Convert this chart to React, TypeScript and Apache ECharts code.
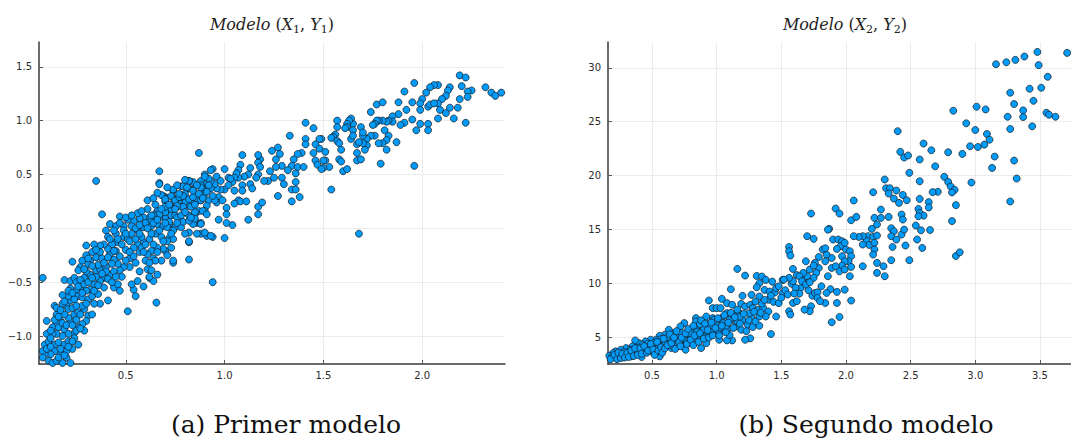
import React, { useEffect, useRef } from "react";
import * as echarts from "echarts";

// Modelo (X1, Y1)
const modelo1: number[][] = [
  [2.19,1.42],[2.22,1.40],[2.32,1.31],[2.35,1.26],[2.37,1.23],[2.40,1.26],[2.25,1.28],[2.23,1.27],[2.23,1.22],[2.20,1.32],
  [2.19,1.20],[2.18,1.12],[2.16,1.02],[2.22,0.98],[2.14,1.31],[2.13,1.28],[2.12,1.23],[2.10,1.20],[2.08,1.16],[2.08,1.33],
  [2.06,1.33],[2.04,1.31],[2.02,1.26],[2.00,1.20],[1.99,1.16],[1.99,1.10],[2.03,1.13],[2.04,1.15],[2.06,1.16],[2.09,1.10],
  [2.12,1.07],[2.14,1.12],[2.08,1.02],[2.03,0.97],[2.03,0.91],[1.99,0.97],[1.97,0.91],[1.95,1.01],[1.95,1.17],[1.96,1.35],
  [1.91,1.27],[1.88,1.17],[1.88,1.06],[1.91,0.98],[1.89,0.96],[1.92,1.10],[1.96,0.58],[1.87,0.80],[1.85,1.04],[1.85,0.99],
  [1.83,1.00],[1.82,0.99],[1.80,1.00],[1.78,1.00],[1.77,1.00],[1.76,0.97],[1.75,0.96],[1.74,1.08],[1.77,1.15],[1.80,1.17],
  [1.81,0.91],[1.83,0.86],[1.82,0.82],[1.82,0.73],[1.80,0.79],[1.78,0.79],[1.79,0.60],[1.76,0.86],[1.74,0.86],[1.72,0.83],
  [1.70,0.86],[1.69,0.94],[1.70,0.89],[1.72,0.77],[1.71,0.73],[1.70,0.79],[1.67,0.78],[1.67,0.70],[1.67,0.63],[1.69,0.64],
  [1.65,0.97],[1.64,1.02],[1.63,1.00],[1.62,0.97],[1.62,0.94],[1.61,0.93],[1.65,0.91],[1.64,0.83],[1.65,0.86],[1.68,0.80],
  [1.57,1.00],[1.57,0.94],[1.56,0.87],[1.55,0.85],[1.54,0.84],[1.57,0.81],[1.58,0.79],[1.59,0.73],[1.58,0.64],[1.59,0.62],
  [1.60,0.53],[1.62,0.55],[1.53,0.57],[1.51,0.63],[1.51,0.71],[1.50,0.56],[1.49,0.83],[1.54,0.36],[1.68,-0.05],
  [1.41,0.98],[1.45,0.93],[1.33,0.86],[1.41,0.83],[1.41,0.78],[1.46,0.78],[1.48,0.83],[1.48,0.74],[1.45,0.70],[1.46,0.63],
  [1.47,0.59],[1.49,0.55],[1.50,0.63],[1.39,0.70],[1.37,0.69],[1.35,0.64],[1.34,0.58],[1.37,0.57],[1.40,0.57],[1.36,0.51],
  [1.36,0.43],[1.34,0.36],[1.36,0.36],[1.34,0.25],[1.38,0.29],[1.32,0.54],[1.29,0.58],[1.27,0.75],[1.28,0.69],[1.26,0.64],
  [1.24,0.72],[1.26,0.57],[1.23,0.53],[1.29,0.47],[1.30,0.41],[1.27,0.30],[1.25,0.47],[1.22,0.44],[1.20,0.44],[1.18,0.64],
  [1.17,0.68],[1.17,0.61],[1.18,0.57],[1.17,0.50],[1.16,0.47],[1.13,0.56],[1.12,0.50],[1.10,0.48],[1.09,0.68],[1.08,0.59],
  [1.07,0.54],[1.07,0.47],[1.09,0.40],[1.09,0.35],[1.13,0.41],[1.14,0.37],[1.06,0.51],[1.05,0.47],[1.04,0.43],[1.05,0.35],
  [1.07,0.26],[1.08,0.25],[1.11,0.25],[1.12,0.08],[1.17,0.20],[1.19,0.24],[1.17,0.13],[1.05,0.23],[1.01,0.19],[1.01,0.13],
  [1.04,0.03],[1.01,0.05],[1.00,-0.09],[1.00,0.55],[1.02,0.47],[1.03,0.46],[1.00,0.36],[0.98,0.36],[0.97,0.08],[0.97,0.29],
  [0.96,0.24],[0.96,0.37],[0.95,0.41],[0.93,0.44],[0.92,0.46],[0.90,0.41],[0.89,0.36],[0.94,0.55],[0.93,0.54],[0.90,0.50],
  [0.88,0.44],[0.88,0.40],[0.87,0.70],[0.90,0.48],[0.92,0.26],[0.91,0.21],[0.90,0.16],[0.87,0.16],[0.88,0.26],[0.86,0.26],
  [0.84,0.36],[0.84,0.43],[0.82,0.44],[0.82,0.37],[0.80,0.32],[0.78,0.39],[0.83,0.26],[0.82,0.21],[0.82,0.12],[0.85,0.13],
  [0.86,0.05],[0.84,0.04],[0.88,0.05],[0.88,-0.05],[0.91,-0.07],[0.94,-0.08],[0.82,-0.04],[0.80,-0.05],[0.82,-0.13],[0.82,-0.29],
  [0.86,-0.05],[0.80,0.25],[0.78,0.20],[0.77,0.26],[0.75,0.26],[0.74,0.28],[0.73,0.20],[0.74,0.35],[0.78,0.29],[0.70,0.29],
  [0.70,0.25],[0.69,0.30],[0.71,0.16],[0.73,0.12],[0.75,0.12],[0.76,0.10],[0.75,0.01],[0.72,0.04],[0.70,0.09],[0.67,0.10],
  [0.66,0.16],[0.65,0.13],[0.67,0.53],[0.67,0.42],[0.72,0.06],[0.72,-0.09],[0.73,-0.18],[0.74,-0.10],[0.70,-0.21],[0.71,-0.25],
  [0.68,-0.30],[0.74,-0.32],[0.94,-0.50],
  [0.35,0.44],[0.67,0.41],[0.74,0.36],[0.79,0.39],[0.82,0.44],[0.68,0.31],[0.70,0.27],[0.73,0.30],[0.75,0.26],[0.77,0.29],
  [0.79,0.30],[0.82,0.27],[0.84,0.29],[0.84,0.35],[0.88,0.38],[0.90,0.32],[0.93,0.37],[0.95,0.26],[0.88,0.26],[0.89,0.16],
  [0.91,0.13],[0.85,0.15],[0.83,0.20],[0.79,0.20],[0.76,0.21],[0.73,0.18],[0.70,0.15],[0.67,0.13],[0.64,0.12],[0.62,0.10],
  [0.59,0.10],[0.57,0.09],[0.54,0.07],[0.53,0.02],[0.49,0.02],[0.47,0.11],[0.38,0.13],[0.42,0.04],[0.40,-0.02],[0.41,-0.08],
  [0.45,-0.13],[0.45,-0.21],[0.43,-0.15],[0.49,-0.02],[0.49,-0.08],[0.51,-0.10],[0.53,-0.05],[0.56,-0.02],[0.59,0.01],[0.63,0.02],
  [0.66,0.04],[0.69,0.02],[0.71,0.01],[0.74,-0.02],[0.78,0.01],[0.79,0.06],[0.82,0.07],[0.85,0.09],[0.88,0.04],[0.90,-0.04],
  [0.93,-0.07],[0.82,-0.12],[0.74,-0.30],[0.69,-0.19],[0.66,-0.18],[0.63,-0.21],[0.61,-0.24],[0.59,-0.13],[0.56,-0.15],[0.54,-0.18],
  [0.57,-0.22],[0.61,-0.38],[0.63,-0.39],[0.62,-0.46],[0.64,-0.49],[0.66,-0.43],[0.56,-0.49],[0.54,-0.57],[0.55,-0.63],[0.53,-0.52],
  [0.52,-0.36],[0.49,-0.36],[0.47,-0.39],[0.46,-0.33],[0.44,-0.29],[0.42,-0.24],[0.41,-0.19],[0.39,-0.15],[0.37,-0.16],[0.34,-0.15],
  [0.30,-0.16],[0.37,-0.22],[0.35,-0.27],[0.32,-0.30],[0.31,-0.33],[0.27,-0.36],[0.26,-0.39],[0.23,-0.31],[0.19,-0.48],[0.22,-0.49],
  [0.24,-0.46],[0.29,-0.46],[0.32,-0.43],[0.35,-0.39],[0.37,-0.38],[0.40,-0.36],[0.42,-0.43],[0.39,-0.46],[0.37,-0.49],[0.34,-0.52],
  [0.32,-0.57],[0.30,-0.58],[0.27,-0.55],[0.25,-0.58],[0.26,-0.63],[0.28,-0.64],[0.31,-0.66],[0.33,-0.63],[0.36,-0.61],[0.37,-0.70],
  [0.41,-0.67],[0.44,-0.55],[0.46,-0.52],[0.47,-0.58],[0.51,-0.77],[0.655,-0.69],[0.59,-0.54],[0.62,-0.45],[0.22,-0.67],[0.21,-0.63],
  [0.20,-0.72],[0.21,-0.75],[0.23,-0.74],[0.24,-0.80],[0.26,-0.78],[0.29,-0.75],[0.31,-0.81],[0.30,-0.86],[0.28,-0.89],[0.29,-0.95],
  [0.26,-0.92],[0.24,-0.97],[0.22,-0.86],[0.21,-0.83],[0.19,-0.80],[0.17,-0.86],[0.15,-0.80],[0.14,-0.72],[0.15,-0.74],[0.15,-0.88],
  [0.13,-0.92],[0.10,-0.86],[0.16,-0.92],[0.19,-0.94],[0.21,-0.98],[0.18,-1.00],[0.15,-0.98],[0.13,-0.98],[0.10,-0.98],[0.09,-1.08],
  [0.11,-1.05],[0.14,-1.08],[0.16,-1.06],[0.19,-1.08],[0.21,-1.05],[0.24,-1.02],[0.26,-1.08],[0.23,-1.12],[0.20,-1.14],[0.17,-1.16],
  [0.14,-1.14],[0.12,-1.17],[0.09,-1.17],[0.08,-1.14],[0.08,-1.20],[0.11,-1.23],[0.13,-1.25],[0.15,-1.23],[0.18,-1.25],[0.22,-1.25],
  [0.08,-0.46],
  [0.28,-0.30],[0.33,-0.22],[0.38,-0.28],[0.43,-0.33],[0.47,-0.26],[0.50,-0.20],[0.52,-0.28],[0.55,-0.32],[0.58,-0.08],[0.60,-0.30],
  [0.55,0.00],[0.52,-0.12],[0.45,-0.05],[0.40,-0.40],[0.36,-0.34],[0.30,-0.40],[0.25,-0.50],[0.22,-0.56],[0.18,-0.62],[0.24,-0.66],
  [0.28,-0.72],[0.33,-0.80],[0.25,-0.85],[0.18,-0.70],[0.12,-1.02],[0.17,-1.12],[0.20,-1.20],[0.48,-0.45],[0.44,-0.40],[0.50,-0.30],
  [0.58,-0.18],[0.62,-0.10],[0.65,-0.05],[0.68,-0.08],[0.71,-0.12],[0.60,0.05],[0.64,-0.28],[0.57,-0.40],[0.45,0.02],[0.51,0.08],
  [0.56,0.14],[0.61,0.18],[0.65,0.22],[0.70,0.20],[0.63,0.07],[0.35,-0.45],[0.30,-0.25],[0.27,-0.48],[0.39,-0.55],[0.34,-0.70],
  [0.30,-0.70],[0.64,0.05],[0.63,-0.05],[0.64,-0.15],[0.66,-0.22],[0.65,-0.30],
  [0.10,-1.12],[0.12,-1.10],[0.16,-1.20],[0.19,-1.18],[0.21,-1.10],[0.23,-1.05],[0.25,-0.95],[0.27,-0.93],[0.12,-0.95],[0.14,-0.85],
  [0.16,-0.82],[0.18,-0.88],[0.20,-0.90],[0.23,-0.90],[0.25,-0.72],[0.27,-0.80],[0.17,-0.76],[0.19,-0.68],[0.21,-0.58],[0.23,-0.60],
  [0.26,-0.54],[0.28,-0.60],[0.29,-0.52],[0.31,-0.50],[0.33,-0.46],[0.34,-0.58],[0.36,-0.53],[0.38,-0.42],[0.41,-0.47],[0.43,-0.50],
  [0.45,-0.45],[0.29,-0.38],[0.31,-0.28],[0.33,-0.35],[0.35,-0.20],[0.39,-0.32],[0.41,-0.27],[0.44,-0.21],[0.46,-0.10],[0.48,-0.15],
  [0.50,-0.05],[0.52,-0.22],[0.54,-0.26],[0.55,-0.10],[0.57,-0.05],[0.59,-0.22],[0.60,-0.15],[0.61,0.00],[0.62,-0.32],[0.63,0.12],
  [0.66,0.08],[0.67,-0.02],[0.68,0.18],[0.69,-0.12],[0.70,0.05],[0.72,0.22],[0.73,-0.05],[0.75,0.18],[0.76,0.05],[0.77,0.32],
  [0.78,0.12],[0.80,0.15],[0.81,0.38],[0.83,0.10],[0.85,0.22],[0.86,0.40],[0.87,0.32],[0.89,0.28],[0.91,0.34],[0.92,0.40],
  [0.94,0.30],[0.96,0.48],[0.98,0.44],[0.99,0.26],[1.02,0.40],[0.42,-0.10],[0.44,-0.02],[0.47,0.05],[0.50,0.10],[0.53,0.12],
  [0.57,0.03],[0.58,0.16],[0.61,0.26],[0.64,0.28],[0.66,0.33],[0.71,0.38],[0.76,0.40],[0.80,0.45],
];

// Modelo (X2, Y2)
const modelo2: number[][] = [
  [1.16,11.33],[1.22,10.71],[1.31,10.68],[1.35,10.62],[1.38,10.31],[1.43,10.15],[1.51,10.31],[1.33,10.0],[1.31,9.63],[1.37,9.38],
  [1.41,9.23],[1.45,9.14],[1.51,9.07],[1.11,9.44],[1.20,8.83],[1.27,8.92],[1.33,8.77],[1.40,8.46],[1.44,8.27],[1.48,8.15],
  [0.94,8.40],[1.04,8.55],[0.97,7.69],[1.00,7.69],[1.03,7.69],[1.08,8.15],[1.12,8.0],[1.17,7.28],[1.19,8.09],[1.22,7.84],
  [1.26,8.0],[1.28,7.69],[1.32,7.53],[1.36,7.69],[1.40,7.38],[1.46,6.91],[1.38,6.91],[1.33,6.91],[1.27,6.76],[1.24,6.14],
  [1.28,5.93],[1.33,6.05],[1.42,5.28],[1.26,4.88],[1.22,4.75],[1.12,4.69],[1.08,4.69],[1.19,5.68],[1.15,5.99],[0.84,6.76],
  [0.84,6.45],[0.75,6.30],[0.72,5.99],[0.67,5.37],[0.63,5.68],[0.60,5.22],[0.56,5.12],[0.53,4.75],[0.49,4.75],[0.45,4.60],
  [0.40,4.44],[0.37,4.69],[0.35,4.14],[0.30,3.98],[0.26,3.83],[0.22,3.67],[0.20,3.52],[0.17,3.27],[0.19,3.15],[0.24,3.27],
  [0.29,3.36],[0.33,3.46],[0.38,3.58],[0.43,3.83],[0.48,3.98],[0.53,4.14],[0.58,4.29],[0.63,4.44],[0.68,4.60],[0.74,4.75],
  [0.79,4.91],[0.81,5.22],[0.86,5.06],[0.92,5.22],[0.97,5.37],[1.02,5.52],[1.06,5.68],[1.09,5.83],[0.88,3.98],[0.56,3.21],
  [0.42,3.15],[0.34,3.21],[0.50,3.67],[0.74,4.14],[0.65,3.98],[0.79,4.44],[0.92,4.44],[1.02,4.75],[0.79,5.52],[0.71,5.22],
  [0.92,5.99],[1.00,6.30],[1.04,6.76],[1.08,7.22],[1.12,6.60],[1.16,6.45],[1.20,6.60],[0.89,5.68],[0.85,5.93],[0.94,6.23],
  [0.97,6.76],[0.92,6.91],[0.81,5.52],[0.61,4.75],[0.45,4.14],[0.76,3.83],
  [0.25,3.2],[0.30,3.3],[0.35,3.5],[0.40,3.7],[0.45,3.9],[0.50,4.1],[0.55,4.3],[0.60,4.5],[0.65,4.7],[0.70,4.9],
  [0.75,5.1],[0.80,5.3],[0.85,5.5],[0.90,5.7],[0.95,5.9],[1.00,6.1],[1.05,6.3],[1.10,6.6],[0.22,3.1],[0.28,3.6],
  [0.33,3.8],[0.38,4.0],[0.43,4.3],[0.47,4.4],[0.52,4.5],[0.57,4.8],[0.62,5.0],[0.66,4.2],[0.70,4.3],[0.73,5.4],
  [0.77,4.6],[0.83,4.8],[0.87,6.2],[0.90,5.0],[0.95,5.5],[0.98,6.6],[1.03,5.9],[1.07,6.0],[1.10,5.2],[1.13,7.0],
  [1.18,6.9],[1.25,7.2],[1.30,8.3],[1.35,8.1],
  [0.18,2.95],[0.21,3.35],[0.23,2.95],[0.24,3.55],[0.26,3.05],[0.27,3.45],[0.29,3.10],[0.31,3.55],[0.32,3.15],[0.34,3.75],
  [0.36,3.25],[0.37,3.95],[0.39,3.35],[0.41,3.95],[0.42,3.45],[0.44,4.15],[0.46,3.55],[0.47,3.75],[0.49,4.35],[0.51,3.85],
  [0.52,3.35],[0.54,4.55],[0.55,3.75],[0.57,4.05],[0.58,3.55],[0.59,4.85],[0.60,3.95],[0.62,4.25],[0.64,5.25],[0.65,4.45],
  [0.67,4.95],[0.68,3.90],[0.69,5.55],[0.71,4.55],[0.72,4.15],[0.73,4.95],[0.76,5.35],[0.77,4.35],[0.78,5.75],[0.80,4.75],
  [0.82,4.25],[0.82,6.05],[0.83,5.15],[0.86,4.55],[0.87,5.35],[0.88,6.55],[0.90,4.85],[0.91,6.25],[0.93,5.65],[0.94,4.95],
  [0.96,6.35],[0.97,5.15],[0.99,5.85],[1.01,6.75],[1.02,5.15],[1.04,6.05],[1.06,7.05],[1.07,5.45],[1.09,6.35],[1.11,7.25],
  [1.13,5.85],[1.14,6.85],[1.16,7.55],[1.18,6.25],[1.21,7.15],[1.23,5.55],[1.25,6.55],[1.29,7.35],[1.30,6.45],[1.34,7.25],
  [1.37,8.45],[1.42,8.85],[1.46,9.55],[1.50,8.65],[1.53,9.35],[1.55,8.95],[1.58,9.95],[1.62,10.75],[1.65,9.55],[1.68,10.45],
  [1.71,9.35],[1.74,8.85],[1.88,9.45],[1.93,9.20],[1.99,9.40],
  [2.40,24.12],[2.60,22.97],[2.42,22.20],[2.45,21.67],[2.48,21.86],[2.57,21.49],[2.49,20.25],[2.30,19.63],[2.31,18.82],[2.34,18.82],
  [2.39,18.61],[2.33,18.33],[2.44,18.20],[2.47,17.71],[2.57,19.47],[2.57,17.83],[2.21,18.45],[2.37,17.86],[2.41,17.46],[2.06,17.68],
  [1.92,16.94],[1.95,16.47],[1.73,16.47],[2.27,16.84],[2.43,16.38],[2.44,15.91],[2.04,15.85],[2.08,16.16],[2.22,16.07],[2.27,16.07],
  [2.33,16.16],[2.56,16.90],[2.57,16.53],[2.60,16.28],[2.56,16.22],[2.54,15.36],[2.58,14.92],[2.55,14.06],[2.59,13.28],[2.49,12.14],
  [2.24,15.45],[2.20,15.05],[2.17,14.37],[2.21,14.30],[2.24,14.43],[2.16,13.90],[2.18,13.56],[2.22,13.75],[2.22,13.13],[2.21,12.66],
  [2.13,14.37],[2.10,14.30],[2.13,13.59],[2.35,15.11],[2.37,14.83],[2.35,14.37],[2.39,14.06],[2.36,13.37],[2.43,14.52],[2.45,14.98],
  [2.46,13.50],[2.06,14.37],[1.87,15.05],[1.90,14.06],[1.94,14.06],[1.97,13.90],[1.96,13.44],[1.99,13.75],[2.00,13.13],[2.03,12.97],
  [2.04,12.51],[2.02,12.04],[1.93,13.19],[1.97,12.51],[1.99,12.04],[1.97,11.64],[1.95,11.11],[1.89,12.35],[1.85,12.66],[1.82,13.13],
  [1.84,13.25],[1.84,12.04],[1.89,11.42],[1.92,11.58],[1.99,11.27],[2.04,11.52],[2.03,10.65],[1.86,10.65],[1.81,9.72],[1.85,9.10],
  [1.84,8.17],[1.93,8.17],[1.95,6.87],[1.89,6.38],[2.04,8.39],[1.79,11.42],[1.77,10.96],[1.76,11.89],[1.75,10.50],[1.72,11.27],
  [1.69,12.04],[1.70,14.37],[1.75,14.12],[1.56,13.37],[1.56,12.97],[1.57,12.57],[1.59,11.33],[1.70,10.65],[1.67,10.96],[1.64,10.65],
  [1.66,10.19],[1.69,9.88],[1.72,10.09],[1.76,9.10],[1.78,9.16],[1.78,8.64],[1.80,8.33],[1.73,7.86],[1.72,7.40],[1.68,7.55],
  [1.59,10.19],[1.56,10.50],[1.61,9.57],[1.64,9.04],[1.60,9.04],[1.59,8.17],[1.62,8.33],[1.56,7.40],[1.57,7.09],[1.52,10.34],
  [1.48,9.72],[1.79,12.44],[1.86,14.98],[1.75,11.64],[2.13,11.58],[2.24,11.89],[2.24,10.96],[2.29,11.58],[2.30,10.65],[2.35,12.14],
  [3.48,32.56],[3.71,31.39],[3.48,31.48],[3.38,31.05],[3.31,30.74],[3.24,30.52],[3.16,30.34],[3.49,30.25],[3.56,29.17],[3.27,27.69],
  [3.42,28.06],[3.51,28.15],[3.45,26.94],[3.30,26.64],[3.37,26.05],[3.37,25.43],[3.25,25.46],[3.55,25.83],[3.57,25.65],[3.62,25.46],
  [3.44,24.57],[3.27,24.32],[3.01,26.39],[3.08,26.14],[2.83,26.02],[2.93,24.85],[3.00,24.23],[3.09,23.86],[3.11,23.33],[3.07,22.87],
  [3.02,22.65],[2.96,22.72],[2.90,22.01],[2.79,22.16],[2.66,22.35],[3.15,21.76],[3.13,20.71],[3.30,21.39],[3.32,19.72],[3.27,17.59],
  [2.69,20.86],[2.76,19.88],[2.79,19.41],[2.81,18.98],[2.84,18.67],[2.82,18.43],[2.71,18.49],[2.67,18.46],[2.97,19.35],[2.85,17.25],
  [2.64,17.53],[2.64,17.04],[2.65,14.94],[2.82,15.77],[2.85,12.53],[2.88,12.87],
];

const xTicks1 = [0.5, 1.0, 1.5, 2.0];
const yTicks1 = [-1.0, -0.5, 0.0, 0.5, 1.0, 1.5];
const xTicks2 = [0.5, 1.0, 1.5, 2.0, 2.5, 3.0, 3.5];
const yTicks2 = [5, 10, 15, 20, 25, 30];
const subscripts = ["1", "2"];
const captions = ["(a) Primer modelo", "(b) Segundo modelo"];

const fmt1 = (v: number) => v.toFixed(1).replace("-", "\u2212");
const fmt2 = (v: number) => String(v);

function axis(gridIndex: number, min: number, max: number, ticks: number[], fmt: (v: number) => string, isY: boolean) {
  return {
    type: "value",
    gridIndex,
    min,
    max,
    axisLine: { show: true, onZero: false, lineStyle: { color: "#3a3a3a", width: 1.5 } },
    axisTick: { show: true, inside: true, length: 4, customValues: ticks, lineStyle: { color: "#555", width: 1 } },
    axisLabel: {
      customValues: ticks,
      formatter: fmt,
      color: "#2a2a2a",
      fontSize: 10,
      fontFamily: "DejaVu Sans",
      margin: isY ? 7 : 6,
    },
    splitLine: { show: true, lineStyle: { color: "#ececec", width: 1 } },
  };
}

function titleText(sub: string) {
  return `{i|Modelo}{n| (}{i|X}{s|${sub}}{n|, }{i|Y}{s|${sub}}{n|)}`;
}

const titleRich = {
  i: { fontFamily: "DejaVu Serif", fontStyle: "italic", fontSize: 16, lineHeight: 22, verticalAlign: "middle", fill: "#222" },
  n: { fontFamily: "DejaVu Serif", fontSize: 16, lineHeight: 22, verticalAlign: "middle", fill: "#222" },
  s: { fontFamily: "DejaVu Serif", fontSize: 11, lineHeight: 11.5, verticalAlign: "bottom", fill: "#222" },
};

export default function App() {
  const ref = useRef<HTMLDivElement>(null);
  useEffect(() => {
    if (!ref.current) return;
    const chart = echarts.init(ref.current, null, { renderer: "svg" });
    const symbolStyle = { color: "#009AF9", borderColor: "#1a1a1a", borderWidth: 0.7, opacity: 1 };
    chart.setOption({
      animation: false,
      backgroundColor: "#ffffff",
      grid: [
        { left: 39, top: 42, width: 466, height: 322, outerBoundsMode: "none" },
        { left: 608, top: 42, width: 463, height: 322, outerBoundsMode: "none" },
      ],
      xAxis: [
        axis(0, 0.061, 2.419, xTicks1, fmt1, false),
        axis(1, 0.16, 3.74, xTicks2, fmt1, false),
      ],
      yAxis: [
        axis(0, -1.26, 1.73, yTicks1, fmt1, true),
        axis(1, 2.5, 32.4, yTicks2, fmt2, true),
      ],
      series: [
        { type: "scatter", xAxisIndex: 0, yAxisIndex: 0, data: modelo1, symbol: "circle", symbolSize: 7, itemStyle: symbolStyle, clip: true },
        { type: "scatter", xAxisIndex: 1, yAxisIndex: 1, data: modelo2, symbol: "circle", symbolSize: 7, itemStyle: symbolStyle, clip: true },
      ],
      graphic: [
        { type: "text", x: 272, y: 24, style: { text: titleText(subscripts[0]), rich: titleRich, align: "center", verticalAlign: "middle" } },
        { type: "text", x: 845, y: 24, style: { text: titleText(subscripts[1]), rich: titleRich, align: "center", verticalAlign: "middle" } },
        { type: "text", x: 286, y: 424, style: { text: captions[0], fontFamily: "DejaVu Serif", fontSize: 25, fill: "#111", align: "center", verticalAlign: "middle" } },
        { type: "text", x: 866, y: 424, style: { text: captions[1], fontFamily: "DejaVu Serif", fontSize: 25, fill: "#111", align: "center", verticalAlign: "middle" } },
      ],
    });
    return () => chart.dispose();
  }, []);
  return <div ref={ref} style={{ position: "fixed", left: 0, top: 0, width: 1071, height: 439, background: "#fff" }} />;
}
